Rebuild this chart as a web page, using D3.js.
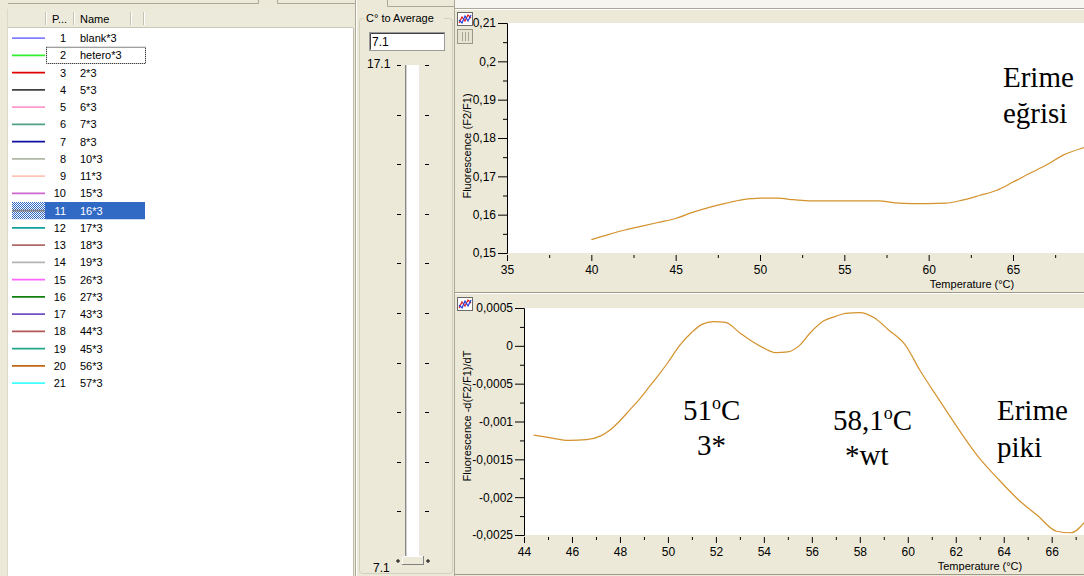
<!DOCTYPE html>
<html><head><meta charset="utf-8">
<script src="https://cdn.jsdelivr.net/npm/d3@7"></script>
<style>body{margin:0;background:#ece9d8;overflow:hidden}svg{display:block}</style>
</head><body><svg id="c" width="1084" height="576"></svg>
<script>
// ---------- data ----------
const sampleIds = [1,2,3,4,5,6,7,8,9,10,11,12,13,14,15,16,17,18,19,20,21];
const sampleNames = ["blank*3","hetero*3","2*3","5*3","6*3","7*3","8*3","10*3","11*3","15*3","16*3","17*3","18*3","19*3","26*3","27*3","43*3","44*3","45*3","56*3","57*3"];
const sampleColors = ["#8080ff","#30f030","#e00000","#404040","#ff99cc","#50a088","#1010a0","#b0b8a8","#ffc4b4","#cc66cc","#808080","#10a0a0","#b06868","#b4b4b4","#ff66ff","#108010","#7050c0","#b05858","#20a888","#c06810","#40ffff"];
const selectedId = 11, focusId = 2;

const meltTemps  = [40,41,42,43,44,45,46,47,48,49,50,51,52,53,54,55,56,57,58,59,60,61,62,63,64,65,66,67,68,69,69.6];
const meltValues = [0.1535,0.1548,0.1560,0.1570,0.1580,0.1590,0.1606,0.1619,0.1630,0.1639,0.1643,0.1643,0.1639,0.1636,0.1636,0.1636,0.1636,0.1636,0.1631,0.1629,0.1629,0.1630,0.1638,0.1650,0.1663,0.1685,0.1708,0.1730,0.1756,0.1772,0.1779];

const peakTemps  = [44.4,45.0,45.9,46.6,47.2,47.6,48.0,48.4,48.8,49.2,49.6,50.0,50.5,51.0,51.4,51.9,52.4,53.0,53.5,54.0,54.5,55.0,55.5,55.9,56.5,57.0,57.4,58.0,58.6,59.2,59.9,60.5,61.3,62.2,62.9,63.8,64.6,65.4,66.2,66.8,67.4];
const peakValues = [-0.00118,-0.00121,-0.00125,-0.00124,-0.00119,-0.00111,-0.00099,-0.00085,-0.00071,-0.00055,-0.00039,-0.00022,0.00001,0.00018,0.00028,0.00032,0.00031,0.00017,0.00006,-0.00003,-0.00009,-0.00008,0.00001,0.00016,0.00033,0.00039,0.00043,0.00044,0.00037,0.00021,0.00001,-0.00032,-0.00071,-0.00114,-0.00145,-0.00177,-0.00203,-0.00224,-0.00245,-0.00247,-0.00232];

const meltXTicks = [35,40,45,50,55,60,65];
const meltXMinor = [37.5,42.5,47.5,52.5,57.5,62.5,67.5];
const meltYTicks = [0.15,0.16,0.17,0.18,0.19,0.2,0.21];
const meltYMinor = [0.155,0.165,0.175,0.185,0.195,0.205];
const peakXTicks = [44,46,48,50,52,54,56,58,60,62,64,66];
const peakXMinor = [45,47,49,51,53,55,57,59,61,63,65,67];
const peakYTicks = [-0.0025,-0.002,-0.0015,-0.001,-0.0005,0,0.0005];
const peakYMinor = [-0.00225,-0.00175,-0.00125,-0.00075,-0.00025,0.00025];

const sliderTop = 17.1, sliderBottom = 7.1, sliderValue = "7.1";
const sliderTicks = [17.1,16.1,15.1,14.1,13.1,12.1,11.1,10.1,9.1,8.1,7.1];

// ---------- drawing ----------
const BEIGE = "#ece9d8", EDGE = "#aca899";
const svg = d3.select("#c").style("font-family","'Liberation Sans', Arial, sans-serif");
const fmt = v => String(+v.toFixed(6)).replace(".", ",");

svg.append("rect").attr("width",1084).attr("height",576).attr("fill",BEIGE);
const defs = svg.append("defs");
const pat = defs.append("pattern").attr("id","chk").attr("width",2).attr("height",2).attr("patternUnits","userSpaceOnUse");
pat.append("rect").attr("width",2).attr("height",2).attr("fill","#ffffff");
pat.append("rect").attr("width",1).attr("height",1).attr("fill","#316ac5");
pat.append("rect").attr("x",1).attr("y",1).attr("width",1).attr("height",1).attr("fill","#316ac5");

// ---- left list panel ----
const L = svg.append("g");
L.append("path").attr("d","M8,3.5H258.5V0M277.5,0V3.5H355").attr("fill","none").attr("stroke",EDGE);
L.append("rect").attr("x",8).attr("y",9).attr("width",345).attr("height",18).attr("fill","#ebeadb");
L.append("line").attr("x1",8).attr("x2",353).attr("y1",27.5).attr("y2",27.5).attr("stroke","#cbc7b8");
[45,73,130,143].forEach(x=>{
  L.append("line").attr("x1",x+.5).attr("x2",x+.5).attr("y1",12).attr("y2",25).attr("stroke","#c5c2b2");
  L.append("line").attr("x1",x+1.5).attr("x2",x+1.5).attr("y1",12).attr("y2",25).attr("stroke","#ffffff");
});
L.append("text").attr("x",52).attr("y",23).attr("font-size",11).text("P...");
L.append("text").attr("x",80).attr("y",23).attr("font-size",11).text("Name");
L.append("rect").attr("x",8).attr("y",28).attr("width",345).attr("height",548).attr("fill","#fff");
L.append("line").attr("x1",353.5).attr("x2",353.5).attr("y1",28).attr("y2",576).attr("stroke","#c0bdae");
L.append("line").attr("x1",7.5).attr("x2",7.5).attr("y1",9).attr("y2",576).attr("stroke","#dcd9c8");

const rowY = d3.scaleBand().domain(sampleIds).range([29.5, 29.5 + 21*17.25]);
const rows = L.selectAll("g.row").data(sampleIds).join("g").attr("class","row")
  .attr("transform", d => `translate(0,${rowY(d)})`);
const bh = rowY.bandwidth();
rows.filter(d=>d===selectedId).append("rect").attr("x",45).attr("y",0).attr("width",100).attr("height",bh).attr("fill","#316ac5");
rows.filter(d=>d===selectedId).append("rect").attr("x",12).attr("y",0).attr("width",33).attr("height",bh).attr("fill","url(#chk)");
rows.append("line").attr("x1",12).attr("x2",45).attr("y1",bh/2).attr("y2",bh/2)
  .attr("stroke",(d,i)=>sampleColors[i]).attr("stroke-width",1.6);
rows.append("text").attr("x",66).attr("y",bh/2+4).attr("text-anchor","end").attr("font-size",11)
  .attr("fill",d=>d===selectedId?"#fff":"#000").text(d=>d);
rows.append("text").attr("x",80).attr("y",bh/2+4).attr("font-size",11)
  .attr("fill",d=>d===selectedId?"#fff":"#000").text((d,i)=>sampleNames[i]);
rows.filter(d=>d===focusId).append("rect").attr("x",46.5).attr("y",0.5).attr("width",99).attr("height",bh-1)
  .attr("fill","none").attr("stroke","#000").attr("stroke-dasharray","1,1");

// ---- slider panel ----
const S = svg.append("g");
S.append("line").attr("x1",355.5).attr("x2",355.5).attr("y1",0).attr("y2",576).attr("stroke",EDGE);
S.append("line").attr("x1",356.5).attr("x2",356.5).attr("y1",0).attr("y2",576).attr("stroke","#fff");
S.append("path").attr("d","M387.5,0V6.5H455").attr("fill","none").attr("stroke",EDGE);
S.append("rect").attr("x",359.5).attr("y",18.5).attr("width",93).attr("height",555).attr("rx",3)
  .attr("fill","none").attr("stroke","#d0d0bf");
S.append("rect").attr("x",364).attr("y",12).attr("width",80).attr("height",12).attr("fill",BEIGE);
S.append("text").attr("x",366).attr("y",22).attr("font-size",11).text("C\u00b0 to Average");
S.append("rect").attr("x",369.5).attr("y",32.5).attr("width",75).attr("height",18).attr("fill","#fff").attr("stroke","#9a9a9a");
S.append("path").attr("d","M370.5,49.5V33.5H444").attr("fill","none").attr("stroke","#404040");
S.append("text").attr("x",372).attr("y",46).attr("font-size",12).text(sliderValue);
const sy = d3.scaleLinear().domain([sliderTop, sliderBottom]).range([65, 561]);
S.append("text").attr("x",367).attr("y",68).attr("font-size",12).text(d3.format(".1f")(sliderTop));
S.append("text").attr("x",373).attr("y",572).attr("font-size",12).text(d3.format(".1f")(sliderBottom));
S.append("rect").attr("x",405).attr("y",sy(sliderTop)).attr("width",15).attr("height",sy(sliderBottom)-sy(sliderTop)).attr("fill","#fff");
S.append("line").attr("x1",405.5).attr("x2",405.5).attr("y1",sy(sliderTop)).attr("y2",sy(sliderBottom)).attr("stroke","#888");
S.append("line").attr("x1",406.5).attr("x2",406.5).attr("y1",sy(sliderTop)).attr("y2",sy(sliderBottom)).attr("stroke","#d0d0d0");
S.append("line").attr("x1",419.5).attr("x2",419.5).attr("y1",sy(sliderTop)).attr("y2",sy(sliderBottom)).attr("stroke","#e8e8e8");
S.selectAll("line.tl").data(sliderTicks.slice(0,-1)).join("line").attr("class","tl")
  .attr("x1",397).attr("x2",401).attr("y1",d=>Math.round(sy(d))+.5).attr("y2",d=>Math.round(sy(d))+.5).attr("stroke","#000");
S.selectAll("line.tr").data(sliderTicks.slice(0,-1)).join("line").attr("class","tr")
  .attr("x1",425).attr("x2",429).attr("y1",d=>Math.round(sy(d))+.5).attr("y2",d=>Math.round(sy(d))+.5).attr("stroke","#000");
S.append("rect").attr("x",402.5).attr("y",sy(sliderBottom)-4.5).attr("width",21).attr("height",8).attr("fill",BEIGE).attr("stroke","#808080");
S.append("path").attr("d","M402.5,"+(sy(sliderBottom)+3)+"V"+(sy(sliderBottom)-4.5)+"H423").attr("fill","none").attr("stroke","#fff");
[398,428].forEach(x=>S.append("path").attr("d",`M${x-2},${sy(sliderBottom)}h4M${x},${sy(sliderBottom)-2}v4`).attr("stroke","#000"));
S.append("line").attr("x1",454.5).attr("x2",454.5).attr("y1",0).attr("y2",576).attr("stroke",EDGE);

// ---- charts ----
function icon(g, x, y){
  g.append("rect").attr("x",x+.5).attr("y",y+.5).attr("width",15).attr("height",13).attr("fill","#fff").attr("stroke","#6a6a6a");
  g.append("path").attr("d",`M${x+2},${y+11}l3,-6l3,4l3,-6l3,3`).attr("fill","none").attr("stroke","#e02020").attr("stroke-width",1.2);
  g.append("path").attr("d",`M${x+2},${y+8}l3,3l3,-7l3,5l3,-6`).attr("fill","none").attr("stroke","#2040e0").attr("stroke-width",1.2);
}

function chart(o){
  const g = svg.append("g");
  g.append("rect").attr("x",o.left).attr("y",o.top).attr("width",1084-o.left).attr("height",o.bottom-o.top).attr("fill","#fff");
  const x = d3.scaleLinear().domain(o.xDom).range([o.left, o.xRight]);
  const y = d3.scaleLinear().domain(o.yDom).range([o.bottom, o.top]);
  const cid = "clip"+o.id;
  defs.append("clipPath").attr("id",cid).append("rect").attr("x",o.left).attr("y",o.top).attr("width",1084-o.left).attr("height",o.bottom-o.top);
  const ya = g.append("g").attr("transform",`translate(${o.left},0)`)
    .call(d3.axisLeft(y).tickValues(o.yTicks).tickFormat(fmt).tickSize(9).tickPadding(2));
  ya.select(".domain").attr("stroke","#000");
  ya.selectAll("text").attr("font-size",12).attr("font-family","'Liberation Sans', Arial, sans-serif");
  g.append("g").attr("transform",`translate(${o.left},0)`)
    .call(d3.axisLeft(y).tickValues(o.yMinor).tickFormat("").tickSize(4)).select(".domain").remove();
  const xa = g.append("g").attr("transform",`translate(0,${o.bottom+2})`)
    .call(d3.axisBottom(x).tickValues(o.xTicks).tickFormat(d3.format("d")).tickSize(6).tickPadding(4));
  xa.select(".domain").remove();
  xa.selectAll("text").attr("font-size",12).attr("font-family","'Liberation Sans', Arial, sans-serif");
  const xm = g.append("g").attr("transform",`translate(0,${o.bottom+2})`)
    .call(d3.axisBottom(x).tickValues(o.xMinor.filter(v=>x(v)<1084)).tickFormat("").tickSize(3));
  xm.select(".domain").remove();
  g.append("text").attr("x",o.xLabelX).attr("y",o.xLabelY).attr("text-anchor","middle").attr("font-size",11).text("Temperature (\u00b0C)");
  g.append("text").attr("transform",`translate(${o.yLabelX},${o.yLabelY}) rotate(-90)`).attr("text-anchor","middle").attr("font-size",11).text(o.yLabel);
  const pts = o.temps.map((t,i)=>[t,o.vals[i]]);
  g.append("path").datum(pts).attr("clip-path",`url(#${cid})`)
    .attr("d", d3.line().x(d=>x(d[0])).y(d=>y(d[1])).curve(d3.curveMonotoneX))
    .attr("fill","none").attr("stroke","#d4922c").attr("stroke-width",1.2);
  icon(g, 457, o.top-11);
  return g;
}

svg.append("rect").attr("x",455).attr("y",0).attr("width",629).attr("height",8).attr("fill","#f6f5ef");
svg.append("line").attr("x1",455).attr("x2",1084).attr("y1",8.5).attr("y2",8.5).attr("stroke",EDGE);
svg.append("line").attr("x1",455).attr("x2",1084).attr("y1",9.5).attr("y2",9.5).attr("stroke","#fff");
chart({id:1,left:507,top:23,bottom:253,xRight:1013,xDom:[35,65],yDom:[0.15,0.21],
  xTicks:meltXTicks,xMinor:meltXMinor,yTicks:meltYTicks,yMinor:meltYMinor,
  temps:meltTemps,vals:meltValues,xLabelX:972,xLabelY:288,yLabelX:471,yLabelY:146,yLabel:"Fluorescence (F2/F1)"});
svg.append("rect").attr("x",457.5).attr("y",29.5).attr("width",15).attr("height",14).attr("fill","#e6e3d3").attr("stroke","#9a9888");
[462,465,468].forEach(x=>svg.append("line").attr("x1",x+.5).attr("x2",x+.5).attr("y1",32).attr("y2",41).attr("stroke","#a8a696"));
svg.append("line").attr("x1",455).attr("x2",1084).attr("y1",292.5).attr("y2",292.5).attr("stroke","#9d9a8a");
svg.append("line").attr("x1",455).attr("x2",1084).attr("y1",293.5).attr("y2",293.5).attr("stroke","#fff");
chart({id:2,left:524,top:308,bottom:535,xRight:1051.7,xDom:[44,66],yDom:[-0.0025,0.0005],
  xTicks:peakXTicks,xMinor:peakXMinor,yTicks:peakYTicks,yMinor:peakYMinor,
  temps:peakTemps,vals:peakValues,xLabelX:980,xLabelY:570,yLabelX:471,yLabelY:416,yLabel:"Fluorescence -d(F2/F1)/dT"});
svg.append("line").attr("x1",455).attr("x2",1084).attr("y1",574.5).attr("y2",574.5).attr("stroke","#9d9a8a");

const A = svg.append("g").attr("font-family","'Liberation Serif','Times New Roman',serif").attr("font-size",29).attr("fill","#000");
A.append("text").attr("x",1003).attr("y",87).text("Erime");
A.append("text").attr("x",1003).attr("y",123).text("eğrisi");
A.append("text").attr("x",997).attr("y",420).text("Erime");
A.append("text").attr("x",997).attr("y",457).text("piki");
function deg(x,y,num){
  const t = A.append("text").attr("x",x).attr("y",y);
  t.append("tspan").text(num);
  t.append("tspan").attr("dy",-11).attr("font-size",18).text("o");
  t.append("tspan").attr("dy",11).text("C");
}
deg(683,420,"51");
A.append("text").attr("x",697).attr("y",455).text("3*");
deg(833,430,"58,1");
A.append("text").attr("x",845).attr("y",465).text("*wt");
</script></body></html>
